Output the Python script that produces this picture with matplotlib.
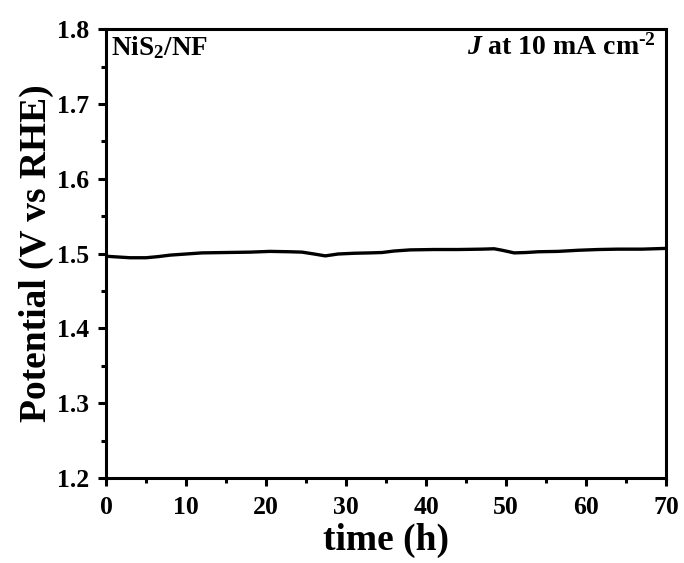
import matplotlib
matplotlib.use('Agg')
import matplotlib.pyplot as plt
import numpy as np

plt.rcParams['font.family'] = 'Liberation Serif'
plt.rcParams['font.weight'] = 'bold'
plt.rcParams['mathtext.fontset'] = 'custom'
plt.rcParams['mathtext.rm'] = 'Liberation Serif:bold'
plt.rcParams['mathtext.it'] = 'Liberation Serif:italic:bold'
plt.rcParams['mathtext.bf'] = 'Liberation Serif:bold'

# stability data
time_h = [0, 1.5, 3, 5, 6.5, 8, 10, 12, 15, 18, 20.5, 23, 24.5, 26, 27.4, 29, 31, 33, 34.5,
          36, 38, 41, 44, 47, 48.5, 49.5, 51, 52.5, 54, 56.5, 59, 61.5, 64, 67, 70]
potential = [1.4965, 1.4955, 1.4945, 1.4945, 1.496, 1.498, 1.4995, 1.501, 1.5015, 1.502,
             1.503, 1.5025, 1.502, 1.4995, 1.497, 1.4995, 1.5005, 1.501, 1.5015,
             1.5035, 1.505, 1.5055, 1.5055, 1.506, 1.5065, 1.5045, 1.501, 1.5015, 1.5025,
             1.503, 1.5045, 1.5055, 1.506, 1.506, 1.507]

fig = plt.figure(figsize=(6.84, 5.63), dpi=100)
ax = fig.add_axes([0.155, 0.151, 0.819, 0.797])
ax.plot(time_h, potential, color='black', lw=2.4)

ax.set_xlim(0, 70)
ax.set_ylim(1.2, 1.8)
ax.set_xticks(np.arange(0, 71, 10))
ax.set_xticks(np.arange(5, 70, 10), minor=True)
ax.set_yticks(np.arange(1.2, 1.81, 0.1))
ax.set_yticks(np.arange(1.25, 1.8, 0.1), minor=True)
ax.set_yticklabels([f'{v:.1f}' for v in np.arange(1.2, 1.81, 0.1)])

for s in ax.spines.values():
    s.set_linewidth(2.2)
ax.tick_params(which='major', direction='out', length=6, width=2.2, labelsize=18.5)
ax.tick_params(which='minor', direction='out', length=3.5, width=2.2)
ax.tick_params(axis='x', which='major', pad=7)
ax.tick_params(axis='y', which='major', pad=6)

ax.set_xlabel('time (h)', fontsize=27, fontweight='bold', labelpad=3)
ax.set_ylabel('Potential (V vs RHE)', fontsize=27, fontweight='bold', labelpad=2)

ax.text(0.008, 0.99, r'NiS$_2$/NF', transform=ax.transAxes, fontsize=19.5,
        fontweight='bold', ha='left', va='top')
ax.text(0.982, 0.99, r'$\mathit{J}$ at 10 mA cm$^{\text{-2}}$', transform=ax.transAxes,
        fontsize=20, fontweight='bold', ha='right', va='top')

fig.savefig('out.png', dpi=100)
